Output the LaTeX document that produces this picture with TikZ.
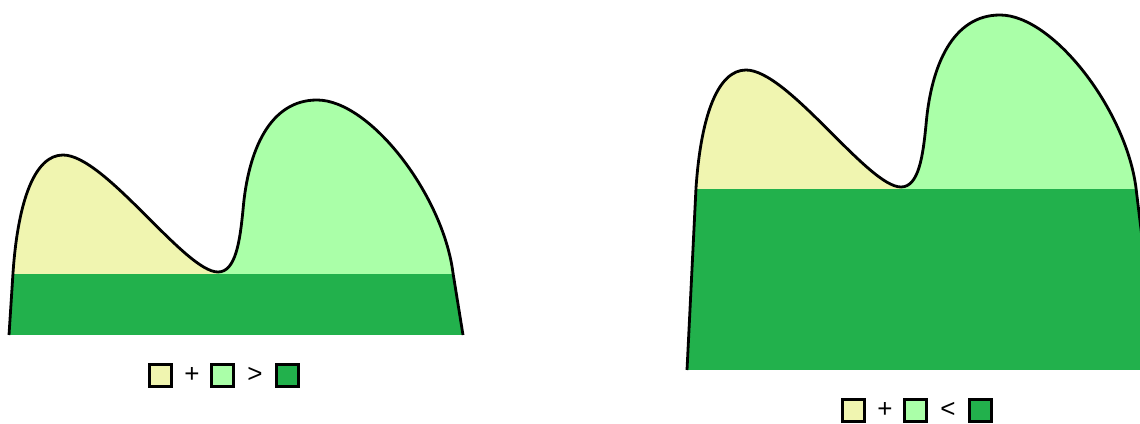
\documentclass[tikz,border=0pt]{standalone}
\usepackage{fontspec}
\setsansfont{Liberation Sans}
\usetikzlibrary{positioning}

\definecolor{pale}{HTML}{F0F5B0}
\definecolor{mint}{HTML}{AAFFA8}
\definecolor{grass}{HTML}{22B14C}

% outline of one landscape: left side, two hills, right side
\newcommand{\hillline}{(\lx,\base) -- (13,273)
    .. controls (18,200) and (35,155) .. (63,155)
    .. controls (105,155) and (185,272) .. (218,272)
    .. controls (236,272) and (240,240) .. (243,210)
    .. controls (248,150) and (270,100) .. (317,100)
    .. controls (370,100) and (443,195) .. (453,273)
    -- (\rx,\base)}

\begin{document}
\begin{tikzpicture}[x=1pt, y=-1pt,
    outline/.style={line width=2.8pt, line join=round},
    keybox/.style={draw, line width=3pt, minimum size=22pt, inner sep=0pt},
    sign/.style={font=\sffamily\fontsize{26}{30}\selectfont, inner sep=0pt}]
    \useasboundingbox (0,0) rectangle (1140,423);

    % small base (left) and large base (right)
    \foreach \dx/\dy/\base/\lx/\rx/\kx/\ky/\rel/\n in
        {0/0/335/9/463/160/375/>/a, 683/-85/455/4/475/170/495/</b} {
        \begin{scope}[shift={(\dx,\dy)}]
            \begin{scope}
                \clip \hillline;
                \fill[pale] (0,0) rectangle (218,274);
                \fill[mint] (218,0) rectangle (500,274);
                \fill[grass] (0,274) rectangle (500,\base);
            \end{scope}
            \draw[outline] \hillline;

            % legend
            \node[keybox, fill=pale] (pale\n) at (\kx,\ky) {};
            \node[sign] (plus\n) at (\kx+32,\ky) {+};
            \node[keybox, fill=mint] (mint\n) at (\kx+62,\ky) {};
            \node[sign] (rel\n) at (\kx+95,\ky) {\rel};
            \node[keybox, fill=grass] (grass\n) at (\kx+127,\ky) {};
        \end{scope}
    }
\end{tikzpicture}
\end{document}
